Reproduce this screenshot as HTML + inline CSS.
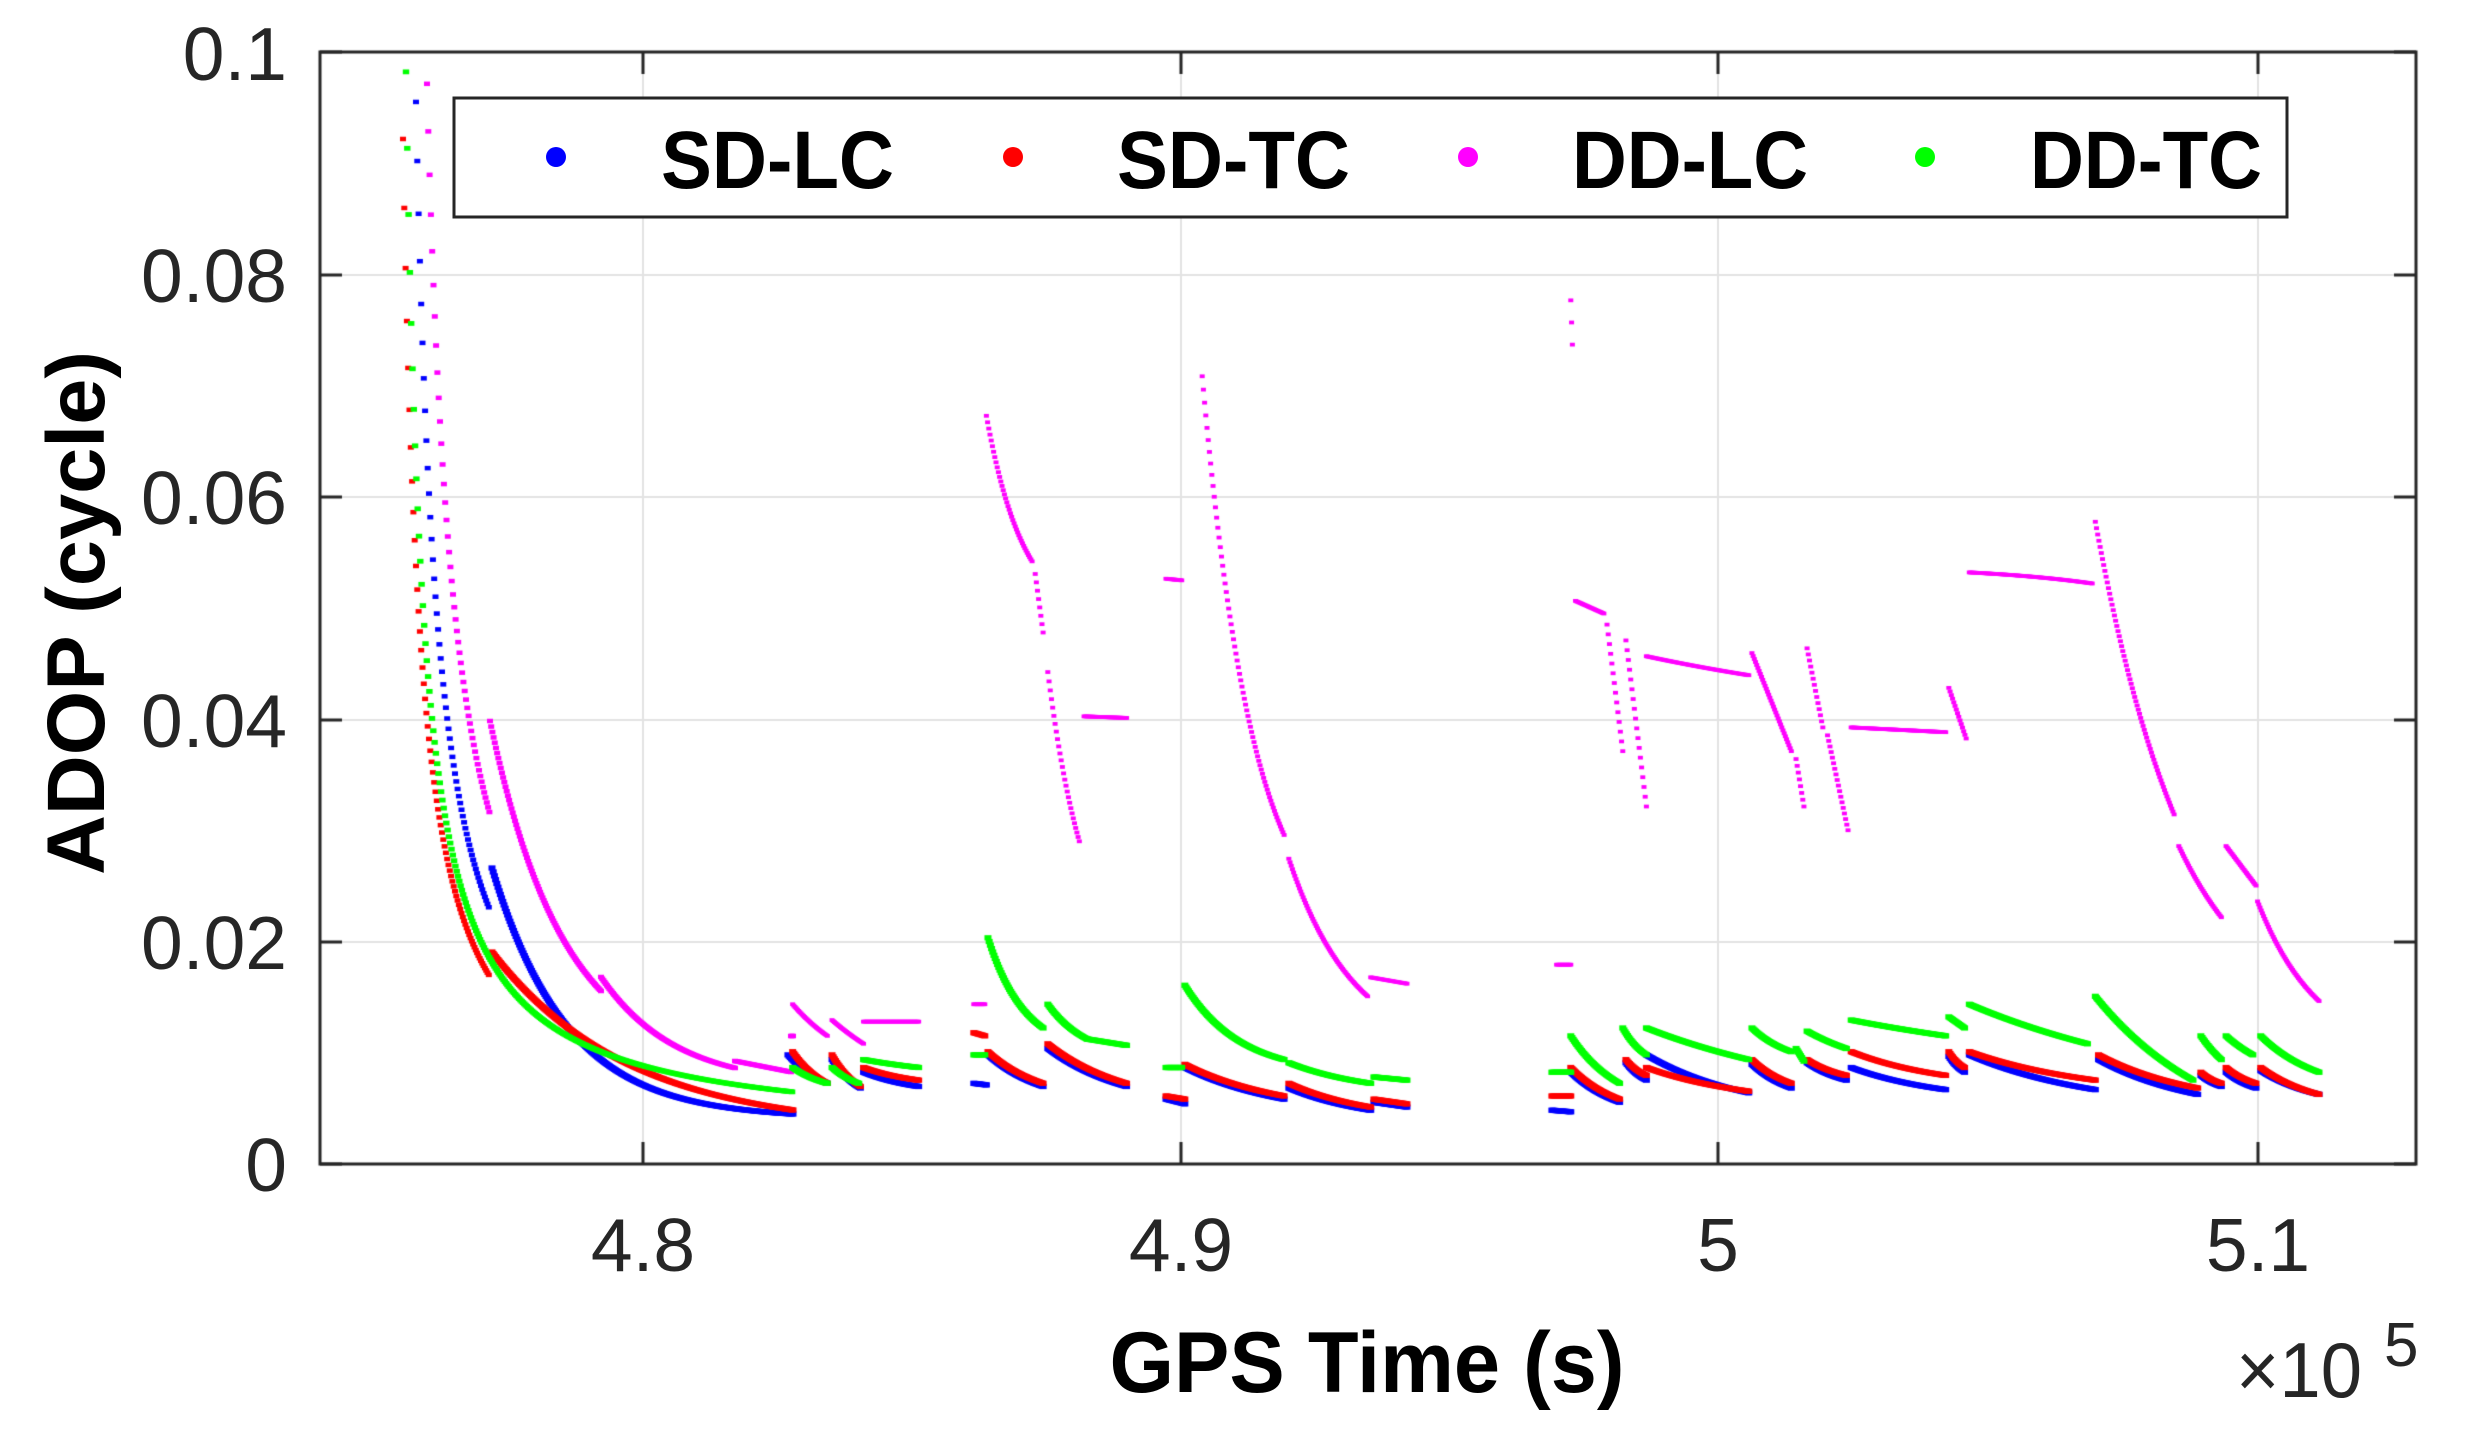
<!DOCTYPE html>
<html><head><meta charset="utf-8"><style>
html,body{margin:0;padding:0;background:#fff;}
#w{position:relative;width:2466px;height:1437px;overflow:hidden;}
canvas,svg{position:absolute;left:0;top:0;}
</style></head><body><div id="w">
<canvas id="c" width="2466" height="1437"></canvas>
<svg width="2466" height="1437" viewBox="0 0 2466 1437" font-family="Liberation Sans, Arial, sans-serif">
<g fill="#262626" font-size="75" text-anchor="end">
<text x="287" y="1191">0</text>
<text x="287" y="969">0.02</text>
<text x="287" y="747">0.04</text>
<text x="287" y="524">0.06</text>
<text x="287" y="302">0.08</text>
<text x="287" y="80">0.1</text>
</g>
<g fill="#262626" font-size="75" text-anchor="middle">
<text x="643" y="1271">4.8</text>
<text x="1181" y="1271">4.9</text>
<text x="1718" y="1271">5</text>
<text x="2258" y="1271">5.1</text>
</g>
<text x="2236" y="1397" font-size="78" fill="#262626" textLength="126" lengthAdjust="spacingAndGlyphs">×10</text>
<text x="2384" y="1366" font-size="62" fill="#262626">5</text>
<text x="1367" y="1392" font-size="86" font-weight="bold" fill="#000" text-anchor="middle" textLength="515" lengthAdjust="spacingAndGlyphs">GPS Time (s)</text>
<text transform="translate(104,613) rotate(-90)" font-size="82" font-weight="bold" fill="#000" text-anchor="middle" textLength="524" lengthAdjust="spacingAndGlyphs">ADOP (cycle)</text>
<rect x="454" y="98" width="1833" height="119" fill="#fff" stroke="#262626" stroke-width="3"/>
<circle cx="556" cy="157" r="10" fill="#0000ff"/>
<circle cx="1013" cy="157" r="10" fill="#ff0000"/>
<circle cx="1468" cy="157" r="10" fill="#ff00ff"/>
<circle cx="1925" cy="157" r="10" fill="#00ff00"/>
<g font-size="82" font-weight="bold" fill="#000">
<text x="661" y="188" textLength="233" lengthAdjust="spacingAndGlyphs">SD-LC</text>
<text x="1117" y="188" textLength="233" lengthAdjust="spacingAndGlyphs">SD-TC</text>
<text x="1572" y="188" textLength="236" lengthAdjust="spacingAndGlyphs">DD-LC</text>
<text x="2030" y="188" textLength="232" lengthAdjust="spacingAndGlyphs">DD-TC</text>
</g>
</svg>
</div>
<script>
const c=document.getElementById('c').getContext('2d');
const L=320,R=2416,T=52,B=1164;
c.strokeStyle='#e3e3e3';c.lineWidth=2;
const xt=[643,1181,1718,2258];
const yt=[1164,942,720,497,275,52];
xt.forEach(x=>{c.beginPath();c.moveTo(x,T);c.lineTo(x,B);c.stroke();});
yt.forEach(y=>{c.beginPath();c.moveTo(L,y);c.lineTo(R,y);c.stroke();});
function D(x,y){return [643+(x-408)*1.5752,1164-(741-y)*1.5818];}
function V(v){return 1164-v*11120;}
function dot(x,y,r){c.fillRect(x-r,y-r*0.75,2*r,1.5*r);}
function fn(x1,x2,A,x0,cc,r){for(let x=x1;x<=x2;x+=1.3){dot(x,V(A/(x-x0)+cc),r);}}
function seg(p,q,k,r,real){
  let a=real?p:D(p[0],p[1]),b=real?q:D(q[0],q[1]);
  let n=Math.max(2,Math.round((b[0]-a[0])/1.2));
  for(let i=0;i<=n;i++){let s=i/n;let f=k?(1-Math.exp(-k*s))/(1-Math.exp(-k)):s;
    dot(a[0]+(b[0]-a[0])*s,a[1]+(b[1]-a[1])*f,r);}
}
const r=3.5;
c.fillStyle='#0000ff';
fn(416,490,2.04,394.3,0.0015,3);
seg([492,868],[793,1114],4,r,1);
[[[500,672],[525,690],1],[[528,675],[546,693],1],[[548,683],[583,692],1],[[618,690],[626,691],0],
[[627,672],[662,692],1],[[665,668],[715,692],1],[[740,700],[752,703],0],[[752,680],[815,700],1],[[818,693],[870,707],1],[[872,702],[893,705],0],
[[985,707],[997,708],0],[[997,683],[1028,702],1],[[1032,677],[1045,688],1],[[1045,672],[1110,696],1],[[1112,678],[1137,693],1],
[[1147,677],[1172,688],1],[[1175,680],[1235,694],1],[[1237,673],[1247,683],1],[[1250,672],[1330,694],1],[[1332,675],[1395,697],1],
[[1397,685],[1410,692],1],[[1413,683],[1432,693],1],[[1435,682],[1472,697],1]].forEach(s=>seg(s[0],s[1],s[2],r));
c.fillStyle='#ff0000';
fn(403,490,1.605,385.3,0.0015,3);
seg([492,952],[793,1110],2.2,r,1);
[[[503,670],[525,690],1],[[528,672],[546,692],1],[[548,680],[583,688],1],[[618,658],[625,660],0],
[[627,670],[662,690],1],[[665,665],[715,690],1],[[740,698],[752,700],0],[[752,678],[815,698],1],[[818,690],[870,705],1],[[872,700],[893,703],0],
[[985,698],[997,698],0],[[997,680],[1028,700],1],[[1032,675],[1045,685],1],[[1045,680],[1110,695],1],[[1112,675],[1137,690],1],
[[1147,675],[1172,685],1],[[1175,670],[1235,685],1],[[1237,670],[1247,680],1],[[1250,670],[1330,688],1],[[1332,672],[1395,693],1],
[[1397,683],[1410,690],1],[[1413,680],[1432,690],1],[[1435,680],[1472,697],1]].forEach(s=>seg(s[0],s[1],s[2],r));
c.fillStyle='#ff00ff';
fn(427,490,2.57,399.7,0.003,3);
seg([490,721],[601,991],1.5,3,1);
seg([601,977],[735,1068],1.8,3,1);
seg([735,1061],[791,1072],0,3,1);
seg([791,1036],[793,1036],0,3,1);
[[[503,640],[525,660],0.5],[[528,650],[548,665],0.3],[[548,651],[583,651],0],[[618,640],[625,640],0],
[[626,268],[655,360],1.2],[[657,368],[662,405],0],[[665,430],[685,537],0.8],[[688,458],[715,459],0],[[740,371],[750,372],0],
[[763,243],[815,533],1.6],[[818,548],[868,635],1.2],[[870,623],[893,627],0],[[988,615],[997,615],0],
[[997,195],[998,223],0],[[1000,385],[1018,393],0],[[1020,400],[1030,480],0],[[1032,410],[1045,515],0],
[[1045,420],[1110,432],0.3],[[1112,418],[1137,480],0],[[1140,485],[1145,515],0],[[1147,415],[1157,465],0],[[1160,470],[1173,530],0],
[[1175,465],[1235,468],0],[[1237,440],[1248,472],0],[[1250,367],[1328,374],-1],[[1330,335],[1380,520],0.8],[[1383,540],[1410,585],0.5],
[[1413,540],[1432,565],0],[[1433,575],[1472,638],1]].forEach(s=>seg(s[0],s[1],s[2],2.5));
c.fillStyle='#00ff00';
fn(406,793,1.608,389.2,0.0025,3.2);
[[[503,680],[525,690],1],[[528,680],[545,690],1],[[548,675],[583,680],0.5],[[618,672],[625,672],0],
[[627,598],[662,655],1.5],[[665,640],[690,662],1],[[690,662],[715,666],0],[[740,680],[750,680],0],
[[752,628],[815,675],1.8],[[818,677],[870,690],1],[[872,686],[893,688],0],[[985,683],[997,683],0],
[[997,660],[1028,690],1],[[1030,655],[1045,672],1],[[1045,655],[1110,675],0.5],[[1112,655],[1137,670],1],[[1140,668],[1145,676],0],
[[1147,657],[1172,668],0.5],[[1175,650],[1235,660],0.3],[[1237,648],[1247,655],0],[[1250,640],[1325,665],0.5],
[[1330,635],[1392,688],0.8],[[1397,660],[1410,675],0.5],[[1413,660],[1430,672],0.5],[[1435,660],[1472,683],1]].forEach(s=>seg(s[0],s[1],s[2],r));
c.strokeStyle='#262626';c.lineWidth=3;
c.strokeRect(L,T,R-L,B-T);
xt.forEach(x=>{c.beginPath();c.moveTo(x,B);c.lineTo(x,B-22);c.moveTo(x,T);c.lineTo(x,T+22);c.stroke();});
yt.forEach(y=>{c.beginPath();c.moveTo(L,y);c.lineTo(L+22,y);c.moveTo(R,y);c.lineTo(R-22,y);c.stroke();});
</script>
</body></html>
